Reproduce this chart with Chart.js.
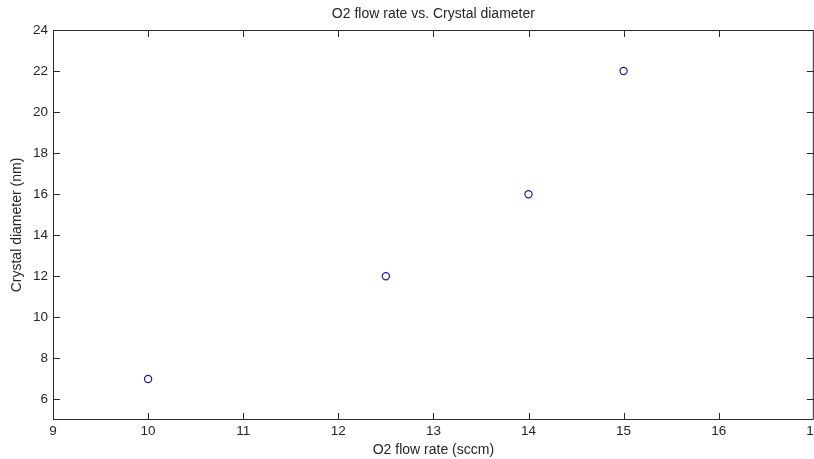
<!DOCTYPE html>
<html><head><meta charset="utf-8">
<script src="https://cdn.jsdelivr.net/npm/chart.js@4/dist/chart.umd.min.js"></script>
<style>html,body{margin:0;padding:0;background:#fff;overflow:hidden;width:814px;height:459px;} #wrap{width:819px;height:459px;}</style>
</head><body><div id="wrap"><canvas id="c" width="819" height="459"></canvas></div>
<script>
const titleText = 'O2 flow rate vs. Crystal diameter';
const xAxisTitle = 'O2 flow rate (sccm)';
const yAxisTitle = 'Crystal diameter (nm)';
const flowRates = [10, 12.5, 14, 15];
const diameters = [7, 12, 16, 22];
const xTicks = [9, 10, 11, 12, 13, 14, 15, 16, 17];
const yTicks = [6, 8, 10, 12, 14, 16, 18, 20, 22, 24];
const xRange = [9, 17];
const yRange = [5, 24];

const points = flowRates.map((x, i) => ({ x: x, y: diameters[i] }));
const textColor = '#262626';
const lineColor = '#2b2b2b';
Chart.defaults.font.family = "'Liberation Sans', Arial, sans-serif";

const matlabBox = {
  id: 'matlabBox',
  beforeDatasetsDraw(chart) {
    const { ctx, chartArea: a, scales } = chart;
    ctx.save();
    ctx.strokeStyle = lineColor;
    ctx.lineWidth = 1;
    ctx.beginPath();
    ctx.rect(a.left + 0.5, a.top + 0.5, a.right - a.left - 1, a.bottom - a.top - 1);
    const tl = 7;
    scales.x.ticks.forEach(t => {
      const p = Math.round(scales.x.getPixelForValue(t.value)) + 0.5;
      ctx.moveTo(p, a.bottom); ctx.lineTo(p, a.bottom - tl);
      ctx.moveTo(p, a.top); ctx.lineTo(p, a.top + tl);
    });
    scales.y.ticks.forEach(t => {
      const p = Math.round(scales.y.getPixelForValue(t.value)) + 0.5;
      ctx.moveTo(a.left, p); ctx.lineTo(a.left + tl, p);
      ctx.moveTo(a.right, p); ctx.lineTo(a.right - tl, p);
    });
    ctx.stroke();
    ctx.restore();
  }
};

new Chart(document.getElementById('c'), {
  type: 'scatter',
  data: {
    datasets: [{
      data: points,
      showLine: false,
      pointStyle: 'circle',
      pointRadius: 3.6,
      pointBorderWidth: 1.2,
      borderColor: '#1c1c9a',
      backgroundColor: 'rgba(0,0,0,0)',
      pointBackgroundColor: 'rgba(0,0,0,0)'
    }]
  },
  options: {
    responsive: false,
    animation: false,
    devicePixelRatio: 1,
    layout: { padding: { left: 0, right: 0, top: 0, bottom: 0 } },
    plugins: {
      legend: { display: false },
      tooltip: { enabled: false },
      title: {
        display: true,
        text: titleText,
        fullSize: false,
        color: textColor,
        font: { size: 14, weight: 'normal' },
        padding: { top: 6.1, bottom: 7.1 }
      }
    },
    scales: {
      x: {
        type: 'linear',
        position: 'bottom',
        min: xRange[0],
        max: xRange[1],
        afterBuildTicks: s => { s.ticks = xTicks.map(v => ({ value: v })); },
        afterFit: s => { s.height = 39; s.paddingLeft = 0; s.paddingRight = 0; },
        grid: { display: false, drawTicks: false },
        border: { display: false },
        ticks: { color: textColor, font: { size: 13.5 }, padding: 3.6, maxRotation: 0, autoSkip: false,
                 callback: v => String(v) },
        title: { display: true, text: xAxisTitle, color: textColor, font: { size: 14 }, padding: { top: 0, bottom: 0 } }
      },
      y: {
        type: 'linear',
        position: 'left',
        min: yRange[0],
        max: yRange[1],
        afterBuildTicks: s => { s.ticks = yTicks.map(v => ({ value: v })); },
        afterFit: s => { s.width = 53; s.paddingTop = 0; s.paddingBottom = 0; },
        grid: { display: false, drawTicks: false },
        border: { display: false },
        ticks: { color: textColor, font: { size: 13.5 }, padding: 5, autoSkip: false,
                 callback: v => String(v) },
        title: { display: true, text: yAxisTitle, color: textColor, font: { size: 14 }, padding: { top: 9.1, bottom: 0 } }
      }
    }
  },
  plugins: [matlabBox]
});
</script>
</body></html>
